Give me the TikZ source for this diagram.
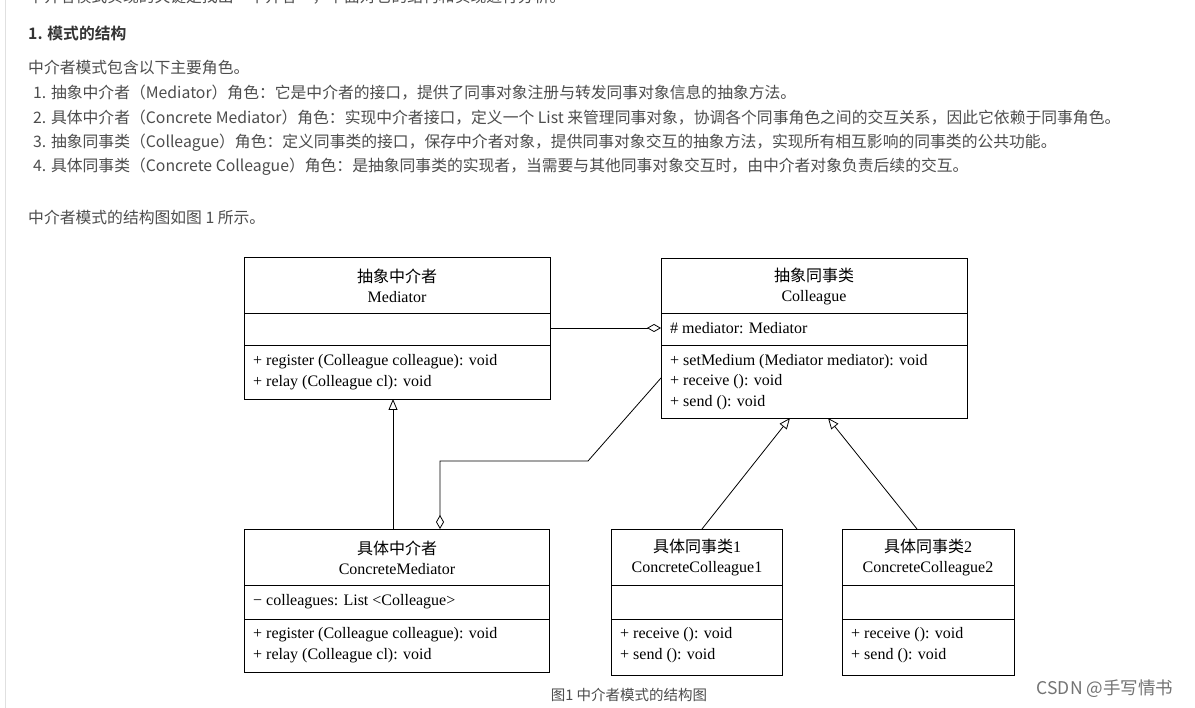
\documentclass[tikz,border=0pt]{standalone}
\usepackage{fontspec}
\setmainfont{Liberation Serif}
\newfontfamily\cjk{Noto Sans CJK SC}
\newfontfamily\cjkb{Noto Sans CJK SC Bold}
\usetikzlibrary{arrows.meta}
\definecolor{txt}{HTML}{4D4D4D}
\begin{document}
\begin{tikzpicture}[x=1pt,y=-1pt,
  para/.style={anchor=west,inner sep=0,text=txt,font=\cjk\fontsize{15.8}{17}\selectfont},
  ttl/.style={align=center,inner sep=0,font=\fontsize{16}{20}\selectfont},
  mem/.style={anchor=west,inner sep=0,align=left,font=\fontsize{16}{20.5}\selectfont},
  box/.style={draw,line width=0.9pt},
  ln/.style={line width=0.8pt},
  gen/.style={ln,-{Triangle[open,width=9pt,length=11pt]}},
  agg/.style={ln,-{Diamond[open,width=8pt,length=14pt]}}]
\useasboundingbox[fill=white] (0,0) rectangle (1195,708);
\draw[black!12,line width=1pt] (5,0) -- (5,708);
\node[para] (t0) at (28,-3) {中介者模式实现的关键是找出“中介者”，下面对它的结构和实现进行分析。};
\node[para,font=\cjkb\fontsize{15.8}{17}\selectfont,text=black!80] (h) at (28,33) {1. 模式的结构};
\node[para] (p0) at (28,68) {中介者模式包含以下主要角色。};
\node[para] (p1) at (33,93) {1. 抽象中介者（Mediator）角色：它是中介者的接口，提供了同事对象注册与转发同事对象信息的抽象方法。};
\node[para] (p2) at (33,118) {2. 具体中介者（Concrete Mediator）角色：实现中介者接口，定义一个 List 来管理同事对象，协调各个同事角色之间的交互关系，因此它依赖于同事角色。};
\node[para] (p3) at (33,143) {3. 抽象同事类（Colleague）角色：定义同事类的接口，保存中介者对象，提供同事对象交互的抽象方法，实现所有相互影响的同事类的公共功能。};
\node[para] (p4) at (33,167) {4. 具体同事类（Concrete Colleague）角色：是抽象同事类的实现者，当需要与其他同事对象交互时，由中介者对象负责后续的交互。};
\node[para] (p5) at (28,217) {中介者模式的结构图如图 1 所示。};
% boxes
\draw[box] (244,257) rectangle (550,399); \draw[box] (244,313)--(550,313) (244,345)--(550,345);
\coordinate (medR) at (550,328); \coordinate (medB) at (393,399);
\node[ttl] (mt) at (397,286) {{\cjk 抽象中介者}\\Mediator};
\node[mem] (mm) at (253,372) {+ register (Colleague colleague): void\\+ relay (Colleague cl): void};
\draw[box] (661,258) rectangle (967,418); \draw[box] (661,313)--(967,313) (661,345)--(967,345);
\coordinate (colL) at (661,328); \coordinate (colL2) at (661,378);
\coordinate (colB1) at (790,418); \coordinate (colB2) at (828,418);
\node[ttl] (ct) at (814,286) {{\cjk 抽象同事类}\\Colleague};
\node[mem] (ca) at (670,328) {\# mediator: Mediator};
\node[mem] (cm) at (670,382) {+ setMedium (Mediator mediator): void\\+ receive (): void\\+ send (): void};
\draw[box] (244,529) rectangle (549,672); \draw[box] (244,585)--(549,585) (244,619)--(549,619);
\coordinate (cmT) at (393,529); \coordinate (cmT2) at (440,529);
\node[ttl] (cmt) at (397,558) {{\cjk 具体中介者}\\ConcreteMediator};
\node[mem] (cma) at (253,602) {− colleagues: List <Colleague>};
\node[mem] (cmm) at (253,645) {+ register (Colleague colleague): void\\+ relay (Colleague cl): void};
\draw[box] (611,529) rectangle (782,675); \draw[box] (611,585)--(782,585) (611,619)--(782,619);
\coordinate (c1T) at (702,529);
\node[ttl] (c1t) at (697,558) {{\cjk 具体同事类}1\\ConcreteColleague1};
\node[mem] (c1m) at (620,645) {+ receive (): void\\+ send (): void};
\draw[box] (842,529) rectangle (1014,675); \draw[box] (842,585)--(1014,585) (842,619)--(1014,619);
\coordinate (c2T) at (917,529);
\node[ttl] (c2t) at (928,558) {{\cjk 具体同事类}2\\ConcreteColleague2};
\node[mem] (c2m) at (851,645) {+ receive (): void\\+ send (): void};
% connectors
\draw[agg] (medR) -- (colL);
\draw[gen] (cmT) -- (medB);
\draw[agg] (colL2) -- (588,461) -- (440,461) -- (cmT2);
\draw[gen] (c1T) -- (colB1);
\draw[gen] (c2T) -- (colB2);
\node[para,anchor=center,font=\cjk\fontsize{14.5}{16}\selectfont] (cap) at (629,695) {图1 中介者模式的结构图};
\node[para,anchor=center,text=black!55,font=\cjk\fontsize{17.5}{19}\selectfont] (wm) at (1105,689) {CSDN @手写情书};
\end{tikzpicture}
\end{document}
